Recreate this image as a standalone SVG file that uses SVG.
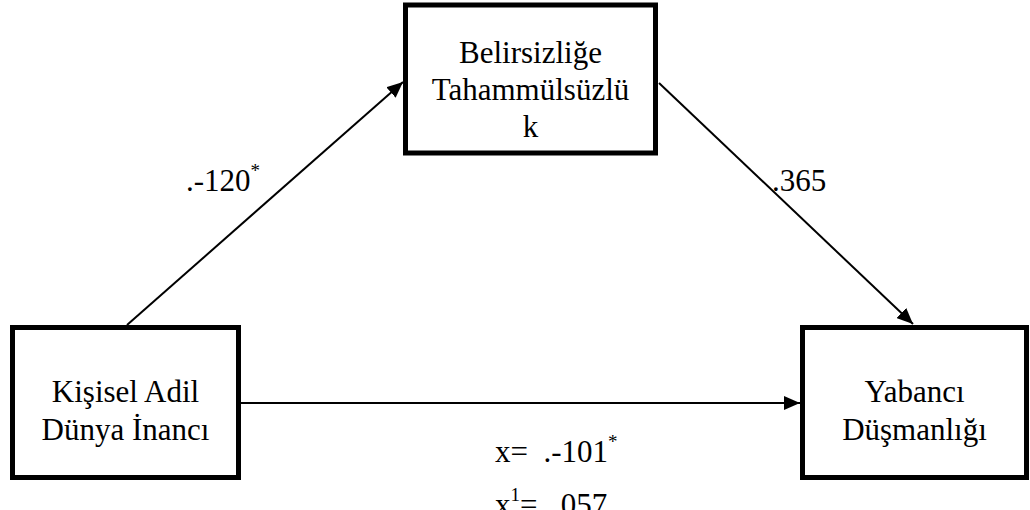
<svg xmlns="http://www.w3.org/2000/svg" width="1030" height="510" viewBox="0 0 1030 510">
<style>
.box{fill:#fff;stroke:#000;stroke-width:5}
.t{font-family:"Liberation Serif","Times New Roman",serif;font-size:31px;fill:#000}
.c{text-anchor:middle}
.sup{font-size:19px}
.edge{stroke:#000;stroke-width:2;fill:none;marker-end:url(#ah)}
</style>
<defs>
<marker id="ah" markerUnits="userSpaceOnUse" markerWidth="18" markerHeight="14" refX="16" refY="7" orient="auto">
<path d="M0,0 L16,7 L0,14 Z" fill="#000"/>
</marker>
</defs>
<rect width="1030" height="510" fill="#fff"/>
<g id="connectors">
<line class="edge" x1="127" y1="325" x2="403" y2="82"/>
<line class="edge" x1="659" y1="83" x2="913" y2="324"/>
<line class="edge" x1="241" y1="403" x2="800" y2="403"/>
</g>
<g id="node-belirsizlik">
<rect class="box" x="405.5" y="5" width="250" height="148"/>
<text class="t c" x="530.5" y="63">Belirsizliğe</text>
<text class="t c" x="530.5" y="100">Tahammülsüzlü</text>
<text class="t c" x="530.5" y="137">k</text>
</g>
<g id="node-kisisel">
<rect class="box" x="12.5" y="327.5" width="226" height="150"/>
<text class="t c" x="125.5" y="402">Kişisel Adil</text>
<text class="t c" x="125.5" y="440">Dünya İnancı</text>
</g>
<g id="node-yabanci">
<rect class="box" x="802.5" y="327.5" width="224" height="150"/>
<text class="t c" x="914.5" y="402">Yabancı</text>
<text class="t c" x="914.5" y="440">Düşmanlığı</text>
</g>
<g id="labels">
<text class="t" x="186" y="191">.-120<tspan class="sup" dy="-14">*</tspan></text>
<text class="t" x="772" y="191">.365</text>
<text class="t" x="495" y="462" xml:space="preserve">x=  .-101<tspan class="sup" dy="-14">*</tspan></text>
<text class="t" x="495" y="515" xml:space="preserve">x<tspan class="sup" dy="-14">1</tspan><tspan dy="14">=  .057</tspan></text>
</g>
</svg>
